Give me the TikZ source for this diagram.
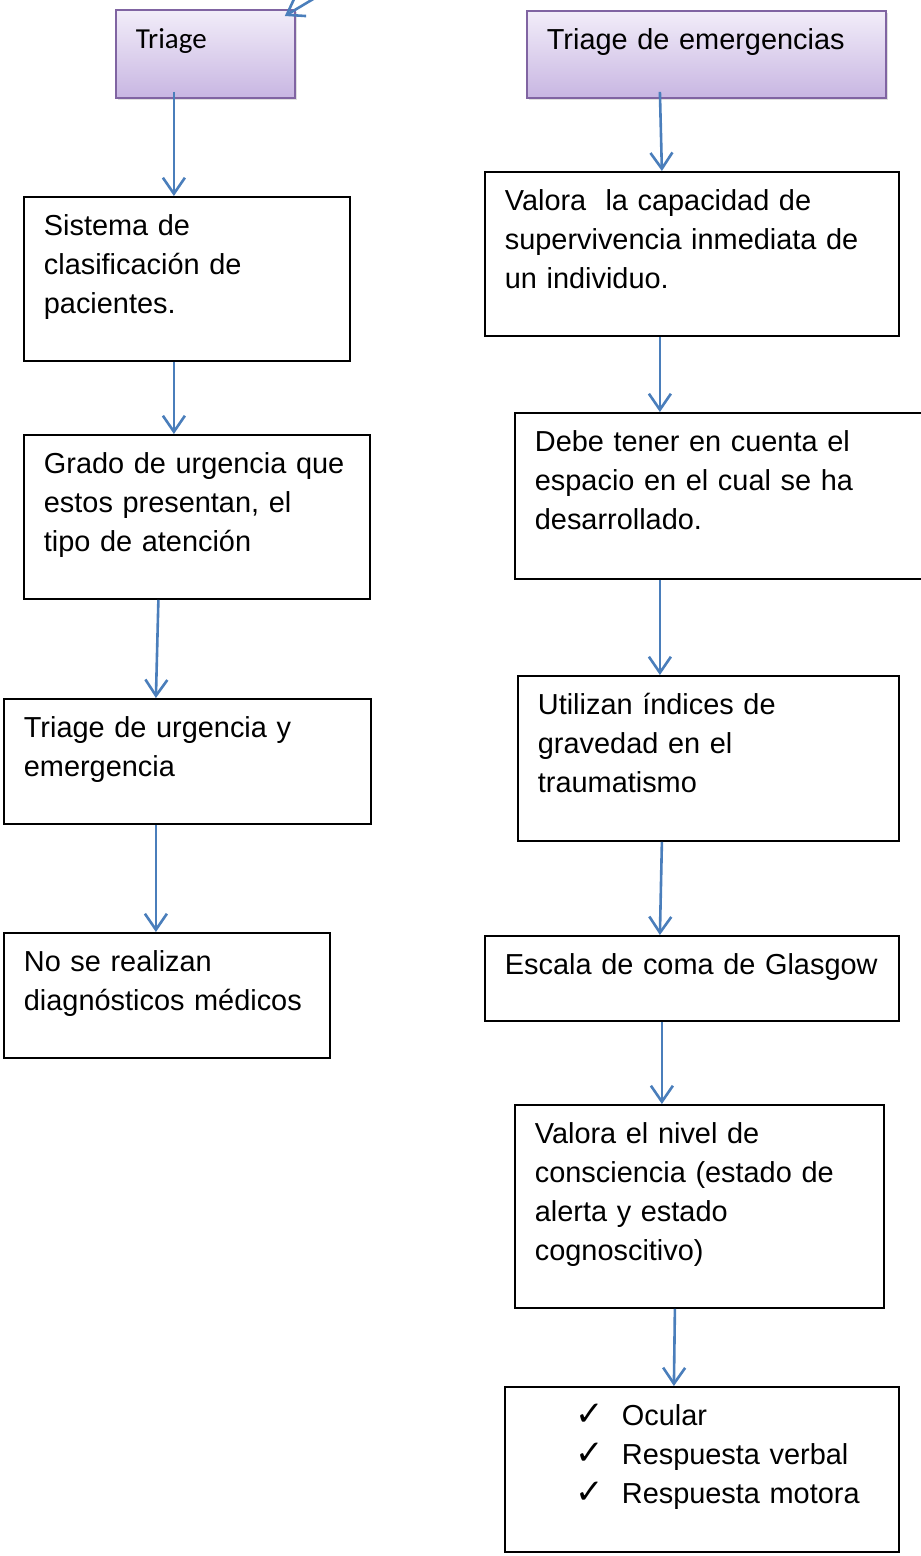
\documentclass[tikz,border=0pt]{standalone}
\usepackage{fontspec}
\setmainfont{Liberation Sans}
\newfontfamily\calibri{Carlito}
\newfontfamily\simbolos{DejaVu Sans}
\usetikzlibrary{arrows.meta}
\usetikzlibrary{shadows}

\definecolor{azul}{RGB}{74,126,187}
\definecolor{lilaborde}{RGB}{128,100,162}
\definecolor{lilaarriba}{RGB}{242,237,249}
\definecolor{lilaabajo}{RGB}{200,182,226}

\newcommand{\chk}{{\simbolos\fontsize{34}{34}\selectfont ✓}}

\tikzset{
    paso/.style={draw,line width=1.8pt,anchor=north west,inner xsep=20pt,inner ysep=0pt,
        align=left,text height=39pt,font=\fontsize{28.9}{38.7}\selectfont},
    titulo/.style={paso,draw=lilaborde,top color=lilaarriba,bottom color=lilaabajo,
        drop shadow={opacity=0.25,shadow xshift=2pt,shadow yshift=-2pt}},
    flecha/.style={draw=azul,line width=2.6pt,
        arrows = -{Straight Barb[length=16pt,width=22pt,line width=2.6pt]}}
}

\begin{document}
\begin{tikzpicture}[x=1pt,y=-1pt]
        %   \draw [help lines] (0,0) grid (921,1556);
        \useasboundingbox (0,0) rectangle (921,1556);

        % columna izquierda
        \node [titulo,text width=139pt,text depth=49pt,font=\calibri\fontsize{29}{38}\selectfont] (triage) at (115,9) {Triage};
        \node [paso,text width=286pt,text depth=125pt] (clasif) at (23,196)
        {Sistema de\\clasificación de\\pacientes.};
        \node [paso,text width=306pt,text depth=125pt] (grado) at (23,434)
        {Grado de urgencia que\\estos presentan, el\\tipo de atención};
        \node [paso,text width=327pt,text depth=86pt] (tipos) at (3,698)
        {Triage de urgencia y\\emergencia};
        \node [paso,text width=286pt,text depth=86pt] (nodiag) at (3,932)
        {No se realizan\\diagnósticos médicos};

        % columna derecha
        \node [titulo,text width=319pt,text depth=48pt] (emerg) at (526,10) {Triage de emergencias};
        \node [paso,text width=374pt,text depth=125pt] (valora) at (484,171)
        {Valora\ \ la capacidad de\\supervivencia inmediata de\\un individuo.};
        \node [paso,text width=371pt,text depth=127pt] (espacio) at (514,412)
        {Debe tener en cuenta el\\espacio en el cual se ha\\desarrollado.};
        \node [paso,text width=341pt,text depth=126pt] (indices) at (517,675)
        {Utilizan índices de\\gravedad en el\\traumatismo};
        \node [paso,text width=374pt,text depth=46pt] (glasgow) at (484,935)
        {\mbox{Escala de coma de Glasgow}};
        \node [paso,text width=329pt,text depth=164pt] (conciencia) at (514,1104)
        {Valora el nivel de\\consciencia (estado de\\alerta y estado\\cognoscitivo)};
        \node [paso,text width=354pt,text depth=126pt] (respuestas) at (504,1386)
        {\hspace*{51pt}\makebox[46pt][l]{\chk}Ocular\\
         \hspace*{51pt}\makebox[46pt][l]{\chk}Respuesta verbal\\
         \hspace*{51pt}\makebox[46pt][l]{\chk}Respuesta motora};

        % flechas
        \coordinate (entrada) at (345,-20);
        \draw [flecha] (entrada) -- ([xshift=-11pt,yshift=-7pt]triage.north east);

        \draw [flecha] ([xshift=-31.5pt,yshift=7pt]triage.south) -- ([xshift=-13pt]clasif.north);
        \draw [flecha] ([xshift=-13pt]clasif.south) -- ([xshift=-23pt]grado.north);
        \draw [flecha] ([xshift=-38.5pt]grado.south) -- ([xshift=-31.5pt]tipos.north);
        \draw [flecha] ([xshift=-31.5pt]tipos.south) -- ([xshift=-11pt]nodiag.north);

        \draw [flecha] ([xshift=-46.5pt,yshift=7pt]emerg.south) -- ([xshift=-30pt]valora.north);
        \draw [flecha] ([xshift=-32pt]valora.south) -- ([xshift=-60.5pt]espacio.north);
        \draw [flecha] ([xshift=-60.5pt]espacio.south) -- ([xshift=-48.5pt]indices.north);
        \draw [flecha] ([xshift=-46.5pt]indices.south) -- ([xshift=-32pt]glasgow.north);
        \draw [flecha] ([xshift=-30pt]glasgow.south) -- ([xshift=-37.5pt]conciencia.north);
        \draw [flecha] ([xshift=-24.5pt]conciencia.south) -- ([xshift=-28pt]respuestas.north);
    \end{tikzpicture}
\end{document}
